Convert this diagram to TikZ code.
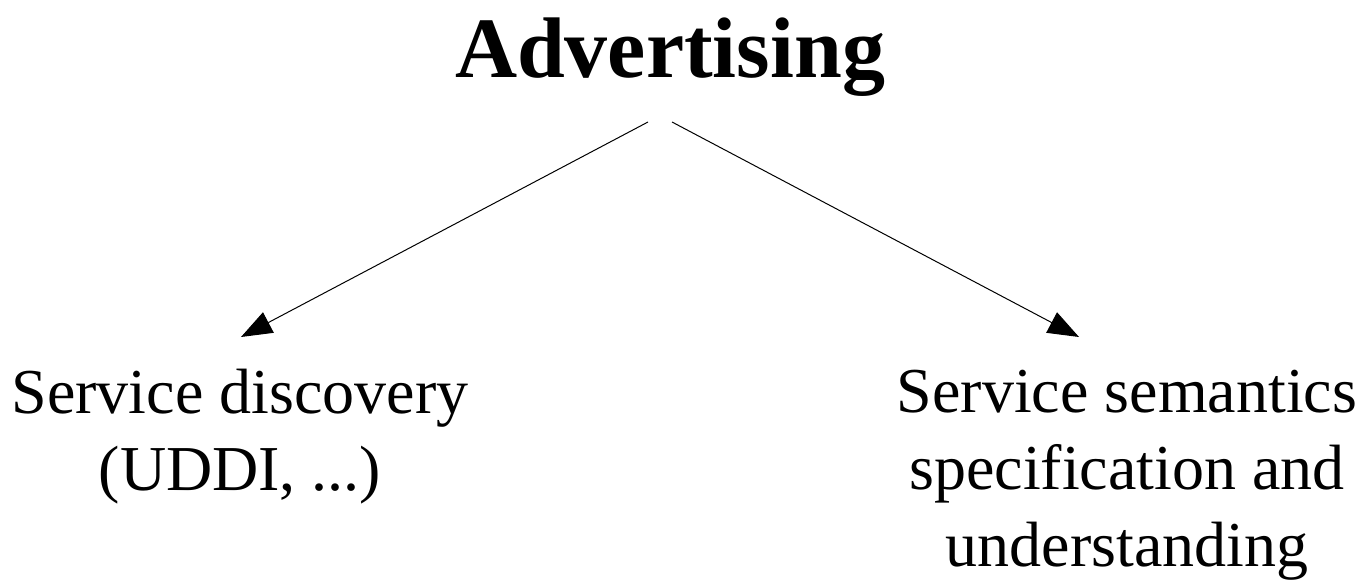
\documentclass[tikz,border=0pt]{standalone}
\usepackage{fontspec}
\setmainfont{Liberation Serif}
\usetikzlibrary{arrows.meta}
\begin{document}
\begin{tikzpicture}[x=1pt,y=-1pt,
  heading/.style={inner sep=0pt,anchor=base,font=\fontsize{86}{100}\selectfont\bfseries},
  topic/.style={inner sep=0pt,anchor=base,align=center,font=\fontsize{64}{77}\selectfont},
  link/.style={line width=1pt,-{Triangle[length=31pt,width=23pt]}}]
  \useasboundingbox (0,0) rectangle (1362,580);
  \node[heading] (title) at (670,78) {Advertising};
  \coordinate (fromL) at (648,122);
  \coordinate (fromR) at (672,122);
  % base anchor sits on the baseline of the last line
  \node[topic] (disc) at (240,490) {Service discovery\\(UDDI, ...)};
  \node[topic] (sem) at (1127,566) {Service semantics\\specification and\\understanding};
  \coordinate (toL) at (241,337);
  \coordinate (toR) at (1079,337);
  \draw[link] (fromL) -- (toL);
  \draw[link] (fromR) -- (toR);
\end{tikzpicture}
\end{document}
